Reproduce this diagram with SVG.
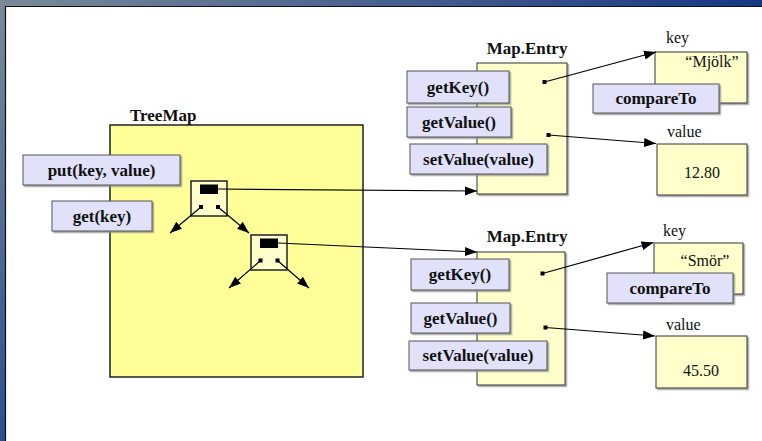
<svg xmlns="http://www.w3.org/2000/svg" width="762" height="441" viewBox="0 0 762 441">
<defs>
<linearGradient id="gTop" x1="0" y1="0" x2="1" y2="0">
<stop offset="0" stop-color="#7b8a99"/><stop offset="1" stop-color="#173784"/>
</linearGradient>
<linearGradient id="gLeft" x1="0" y1="0" x2="0" y2="1">
<stop offset="0" stop-color="#7b8a99"/><stop offset="1" stop-color="#2b4f8e"/>
</linearGradient>
<marker id="ah" viewBox="0 0 12 10" refX="12" refY="5" markerWidth="12" markerHeight="10" markerUnits="userSpaceOnUse" orient="auto">
<path d="M0,0.5 L12,5 L0,9.5 z" fill="#000"/>
</marker>
<filter id="sh" x="-10%" y="-10%" width="130%" height="130%">
<feDropShadow dx="1.5" dy="1.5" stdDeviation="0.6" flood-color="#888" flood-opacity="0.8"/>
</filter>
<style>
.bold{font-family:"Liberation Serif","Times New Roman",serif;font-weight:bold;font-size:17px;fill:#111;}
.reg{font-family:"Liberation Serif","Times New Roman",serif;font-size:16px;fill:#111;}
.mid{text-anchor:middle;}
.tm{fill:#ffff99;stroke:#222;stroke-width:1.5;}
.ent{fill:#ffffcc;stroke:#333;stroke-width:1;filter:url(#sh);}
.meth{fill:#e1e1fa;stroke:#555;stroke-width:1;filter:url(#sh);}
.nd{fill:#ffffcc;stroke:#222;stroke-width:1.5;}
.con{stroke:#000;stroke-width:1.2;fill:none;marker-end:url(#ah);}
</style>
</defs>
<rect width="762" height="441" fill="#fff"/>
<rect x="0" y="0" width="762" height="6" fill="url(#gTop)"/>
<rect x="0" y="0" width="5" height="441" fill="url(#gLeft)"/>
<line x1="5" y1="6.5" x2="762" y2="6.5" stroke="#111" stroke-width="1.2"/>
<line x1="5.5" y1="6" x2="5.5" y2="441" stroke="#111" stroke-width="1.2"/>

<g id="treemap">
<rect class="tm" x="110" y="125" width="253" height="252"/>
<text class="bold" x="130" y="121">TreeMap</text>
</g>
<g id="put">
<rect class="meth" x="23" y="155" width="157" height="30"/>
<text class="bold mid" x="101.5" y="176">put(key, value)</text>
</g>
<g id="get">
<rect class="meth" x="52" y="201" width="100" height="30"/>
<text class="bold mid" x="102" y="222">get(key)</text>
</g>
<g id="node1">
<rect class="nd" x="191" y="181" width="36" height="35"/>
<rect x="200" y="184.5" width="18" height="9.5" fill="#000"/>
<rect x="199" y="205" width="4" height="4" fill="#000"/>
<rect x="216" y="205" width="4" height="4" fill="#000"/>
</g>
<g id="node2">
<rect class="nd" x="251" y="235" width="36" height="35"/>
<rect x="260" y="238.5" width="18" height="9.5" fill="#000"/>
<rect x="258.5" y="258.5" width="4" height="4" fill="#000"/>
<rect x="275.5" y="258.5" width="4" height="4" fill="#000"/>
</g>

<g id="entry1">
<rect class="ent" x="477" y="63" width="90" height="131"/>
<text class="bold mid" x="527" y="54">Map.Entry</text>
<rect x="542.5" y="80" width="4" height="4" fill="#000"/>
<rect x="546.5" y="133" width="4" height="4" fill="#000"/>
</g>
<g id="getKey1">
<rect class="meth" x="407" y="71" width="102" height="32"/>
<text class="bold mid" x="458" y="93">getKey()</text>
</g>
<g id="getValue1">
<rect class="meth" x="407" y="107" width="104" height="30"/>
<text class="bold mid" x="459" y="128">getValue()</text>
</g>
<g id="setValue1">
<rect class="meth" x="410" y="144" width="137" height="30"/>
<text class="bold mid" x="478.5" y="165">setValue(value)</text>
</g>
<g id="key1">
<text class="reg" x="666" y="43">key</text>
<rect class="ent" x="655" y="52" width="92" height="51"/>
<text class="reg mid" x="712" y="67">“Mjölk”</text>
</g>
<g id="compareTo1">
<rect class="meth" x="593" y="84" width="126" height="29"/>
<text class="bold mid" x="656" y="104">compareTo</text>
</g>
<g id="value1">
<text class="reg" x="667" y="137">value</text>
<rect class="ent" x="657" y="144" width="90" height="51"/>
<text class="reg mid" x="702" y="178">12.80</text>
</g>

<g id="entry2">
<rect class="ent" x="477" y="252" width="88" height="133"/>
<text class="bold mid" x="527" y="242">Map.Entry</text>
<rect x="540.5" y="271.5" width="4" height="4" fill="#000"/>
<rect x="543.5" y="325.5" width="4" height="4" fill="#000"/>
</g>
<g id="getKey2">
<rect class="meth" x="411" y="259" width="98" height="31"/>
<text class="bold mid" x="460" y="280">getKey()</text>
</g>
<g id="getValue2">
<rect class="meth" x="411" y="303" width="99" height="30"/>
<text class="bold mid" x="460.5" y="324">getValue()</text>
</g>
<g id="setValue2">
<rect class="meth" x="409" y="341" width="138" height="29"/>
<text class="bold mid" x="478" y="361">setValue(value)</text>
</g>
<g id="key2">
<text class="reg" x="663" y="236">key</text>
<rect class="ent" x="654" y="243" width="89" height="51"/>
<text class="reg mid" x="705" y="266">“Smör”</text>
</g>
<g id="compareTo2">
<rect class="meth" x="607" y="273" width="126" height="30"/>
<text class="bold mid" x="670" y="294">compareTo</text>
</g>
<g id="value2">
<text class="reg" x="666" y="330">value</text>
<rect class="ent" x="656" y="336" width="91" height="52"/>
<text class="reg mid" x="701" y="376">45.50</text>
</g>

<g id="connectors">
<line class="con" x1="201" y1="207" x2="170" y2="233"/>
<line class="con" x1="218" y1="207" x2="249" y2="233"/>
<line class="con" x1="260.5" y1="260.5" x2="229" y2="288"/>
<line class="con" x1="277.5" y1="260.5" x2="309" y2="288"/>
<line class="con" x1="218" y1="189" x2="477" y2="191"/>
<line class="con" x1="278" y1="243" x2="477" y2="252"/>
<line class="con" x1="544.5" y1="82" x2="656" y2="52"/>
<line class="con" x1="548.5" y1="135" x2="656" y2="143.5"/>
<line class="con" x1="542.5" y1="273.5" x2="653.5" y2="242.5"/>
<line class="con" x1="545.5" y1="327.5" x2="655" y2="336"/>
</g>
</svg>
